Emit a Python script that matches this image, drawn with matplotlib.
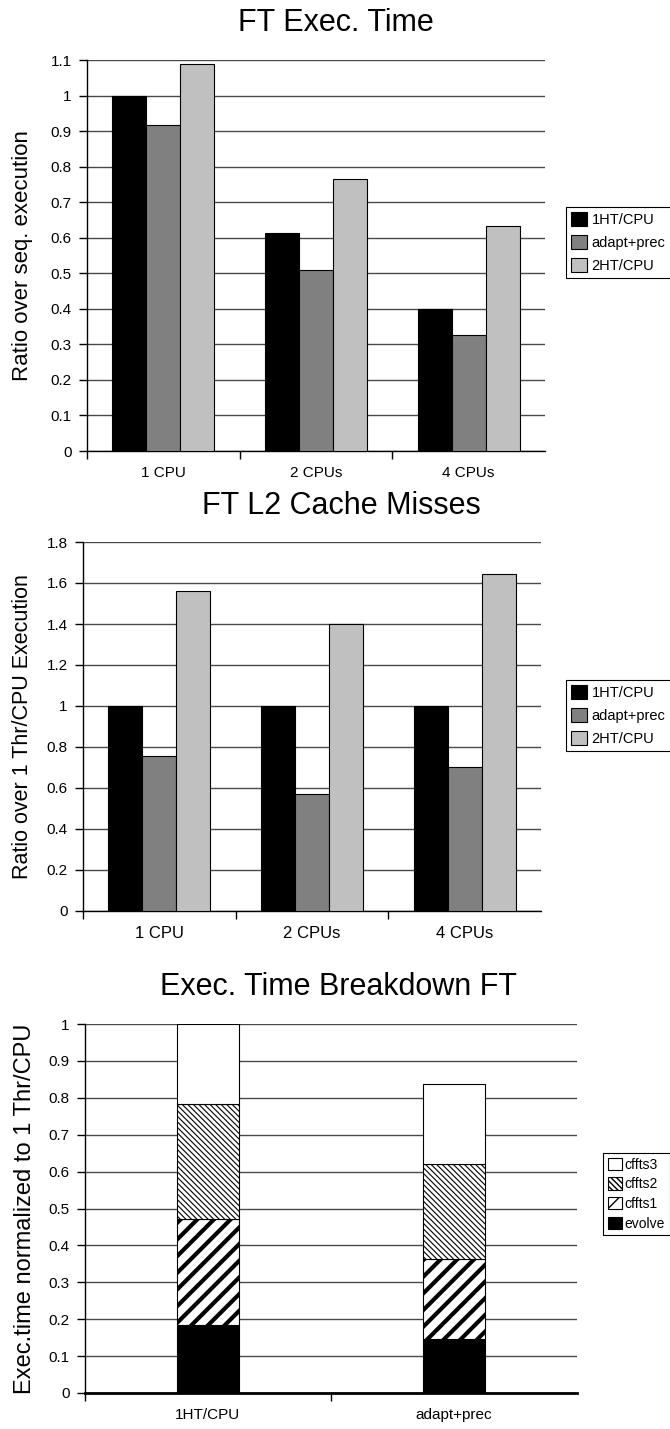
import matplotlib
matplotlib.use("Agg")
import matplotlib.pyplot as plt
import numpy as np
from matplotlib.ticker import FixedLocator, MultipleLocator, FormatStrFormatter

plt.rcParams['font.family'] = ['Liberation Sans', 'DejaVu Sans']

# data
cpu_cats = ["1 CPU", "2 CPUs", "4 CPUs"]
series_names = ["1HT/CPU", "adapt+prec", "2HT/CPU"]
series_colors = ["#000000", "#808080", "#c0c0c0"]

exec_time = [
    [1.0, 0.613, 0.400],    # 1HT/CPU
    [0.918, 0.508, 0.325],  # adapt+prec
    [1.09, 0.766, 0.632],   # 2HT/CPU
]
l2_misses = [
    [1.0, 1.0, 1.0],
    [0.755, 0.573, 0.703],
    [1.563, 1.398, 1.645],
]

brk_cats = ["1HT/CPU", "adapt+prec"]
brk_names = ["evolve", "cffts1", "cffts2", "cffts3"]
evolve = [0.184, 0.146]
cffts1 = [0.287, 0.216]
cffts2 = [0.312, 0.258]
cffts3 = [0.217, 0.217]

W, H = 670, 1429
fig = plt.figure(figsize=(W / 100, H / 100), dpi=100)


def px_axes(left, top, right, bottom):
    return fig.add_axes([left / W, 1 - bottom / H, (right - left) / W, (bottom - top) / H])


def style_axes(ax, ncat, ymax, ystep, spine_w=1.0):
    ax.set_xlim(0, ncat)
    ax.set_ylim(0, ymax)
    ax.yaxis.set_major_locator(MultipleLocator(ystep))
    ax.yaxis.set_major_formatter(FormatStrFormatter('%g'))
    ax.yaxis.grid(True, color='#4a4a4a', linewidth=1.0)
    ax.set_axisbelow(True)
    for s in ['top', 'right']:
        ax.spines[s].set_visible(False)
    ax.spines['left'].set_linewidth(1.0)
    ax.spines['bottom'].set_linewidth(spine_w)
    ax.xaxis.set_major_locator(FixedLocator(list(range(ncat))))
    ax.xaxis.set_minor_locator(FixedLocator([i + 0.5 for i in range(ncat)]))
    ax.tick_params(axis='x', which='major', length=6, width=1, labelbottom=False)
    ax.tick_params(axis='x', which='minor', length=0, pad=11, labelsize=11)
    ax.tick_params(axis='y', which='major', length=6, width=1, pad=5, labelsize=11)


def grouped(ax, data, cats):
    x = np.arange(len(cats)) + 0.5
    w = 1 / 4.5
    for i, vals in enumerate(data):
        ax.bar(x + (i - 1) * w, vals, w, color=series_colors[i], edgecolor='black',
               linewidth=0.8, label=series_names[i], zorder=3)
    ax.set_xticks(x, cats, minor=True)


def add_legend(handles, labels, x, y, **kw):
    opts = dict(loc='upper left', bbox_to_anchor=(x / W, 1 - y / H), fontsize=10.5,
                frameon=True, fancybox=False, edgecolor='black', framealpha=1,
                handlelength=1.1, handleheight=1.1, handletextpad=0.3, borderpad=0.35,
                labelspacing=0.55, borderaxespad=0)
    opts.update(kw)
    leg = fig.legend(handles, labels, **opts)
    leg.get_frame().set_linewidth(0.8)
    return leg


# chart 1
ax1 = px_axes(87, 60, 545, 451)
style_axes(ax1, 3, 1.1, 0.1)
grouped(ax1, exec_time, cpu_cats)
ax1.set_ylabel("Ratio over seq. execution", fontsize=16, va='center')
ax1.yaxis.set_label_coords(-0.14, 0.5)
fig.text(336 / W, 1 - 23 / H, "FT Exec. Time", fontsize=22, ha='center', va='center')
add_legend(*ax1.get_legend_handles_labels(), 566, 207)

# chart 2
ax2 = px_axes(83, 542, 541, 911)
style_axes(ax2, 3, 1.8, 0.2)
grouped(ax2, l2_misses, cpu_cats)
ax2.tick_params(axis='x', which='minor', labelsize=12)
ax2.set_ylabel("Ratio over 1 Thr/CPU Execution", fontsize=15.5, va='center')
ax2.yaxis.set_label_coords(-0.133, 0.5)
fig.text(341 / W, 1 - 506 / H, "FT L2 Cache Misses", fontsize=22, ha='center', va='center')
add_legend(*ax2.get_legend_handles_labels(), 566, 680)

# chart 3
ax3 = px_axes(85, 1024, 577, 1393)
style_axes(ax3, 2, 1.0, 0.1, spine_w=2.0)
xb = np.arange(len(brk_cats)) + 0.5
wb = 0.25
bottom = np.zeros(len(brk_cats))
segs = [(evolve, 'black', None, 1.0), (cffts1, 'white', '//', 3.0),
        (cffts2, 'white', '\\' * 6, 0.8), (cffts3, 'white', None, 1.0)]
handles = []
for name, (vals, fc, hatch, hlw) in zip(brk_names, segs):
    bars = ax3.bar(xb, vals, wb, bottom=bottom, color=fc, edgecolor='black',
                   linewidth=0.8, hatch=hatch, label=name, zorder=3)
    if hatch:
        for p in bars:
            if hasattr(p, 'set_hatch_linewidth'):
                p.set_hatch_linewidth(hlw)
    handles.append(bars)
    bottom = bottom + np.array(vals)
ax3.set_xticks(xb, brk_cats, minor=True)
ax3.set_ylabel("Exec.time normalized to 1 Thr/CPU", fontsize=17, va='center')
ax3.yaxis.set_label_coords(-0.122, 0.5)
fig.text(338 / W, 1 - 987 / H, "Exec. Time Breakdown FT", fontsize=22, ha='center', va='center')
add_legend(handles[::-1], brk_names[::-1], 603, 1153, fontsize=10,
           handlelength=1.0, handleheight=1.0, handletextpad=0.2, labelspacing=0.4)

fig.savefig("out.png", dpi=100)
